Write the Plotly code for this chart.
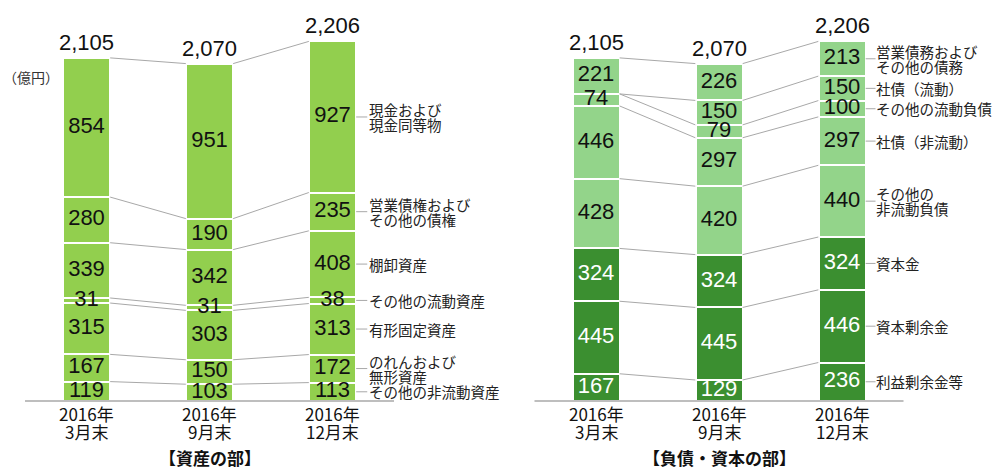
import plotly.graph_objects as go

# ---------------- data ----------------
period_year = ["2016年", "2016年", "2016年"]
period_month = ["3月末", "9月末", "12月末"]

# assets (bottom -> top)
asset_labels = ["その他の非流動資産", "のれんおよび\n無形資産", "有形固定資産", "その他の流動資産",
                "棚卸資産", "営業債権および\nその他の債権", "現金および\n現金同等物"]
a_other_noncurrent = [119, 103, 113]
a_goodwill = [167, 150, 172]
a_ppe = [315, 303, 313]
a_other_current = [31, 31, 38]
a_inventory = [339, 342, 408]
a_receivables = [280, 190, 235]
a_cash = [854, 951, 927]
asset_totals = [2105, 2070, 2206]

# liabilities & equity (bottom -> top)
liab_labels = ["利益剰余金等", "資本剰余金", "資本金", "その他の\n非流動負債", "社債（非流動）",
               "その他の流動負債", "社債（流動）", "営業債務および\nその他の債務"]
l_retained = [167, 129, 236]
l_cap_surplus = [445, 445, 446]
l_capital = [324, 324, 324]
l_other_noncurrent = [428, 420, 440]
l_bonds_noncurrent = [446, 297, 297]
l_other_current = [74, 79, 100]
l_bonds_current = [0, 150, 150]
l_payables = [221, 226, 213]
liab_totals = [2105, 2070, 2206]

unit_label = "（億円）"
section_titles = ["【資産の部】", "【負債・資本の部】"]

# ---------------- styles ----------------
W, H = 999, 470
PX_PER_UNIT = 0.163
BASE_PX = 401
SPACING_PX = 123
BAR_W = 0.385
C_ASSET = "#92CF4E"
C_LIAB = "#93D48A"
C_EQUITY = "#3B8F30"
C_LINE = "#A8A8A8"
NUM_FONT = "Liberation Sans, Arial, sans-serif"
JP_FONT = "Noto Sans CJK JP, sans-serif"

asset_series = [a_other_noncurrent, a_goodwill, a_ppe, a_other_current, a_inventory, a_receivables, a_cash]
asset_colors = [C_ASSET] * 7
asset_text = ["#111111"] * 7
liab_series = [l_retained, l_cap_surplus, l_capital, l_other_noncurrent, l_bonds_noncurrent,
               l_other_current, l_bonds_current, l_payables]
liab_colors = [C_EQUITY] * 3 + [C_LIAB] * 5
liab_text = ["#FFFFFF"] * 3 + ["#111111"] * 5

y_min = -(H - BASE_PX) / PX_PER_UNIT
y_max = BASE_PX / PX_PER_UNIT
span = (W / 2) / SPACING_PX

fig = go.Figure()
annotations = []
shapes = []

panels = [
    dict(xa="x", ya="y", series=asset_series, colors=asset_colors, tcol=asset_text,
         labels=asset_labels, totals=asset_totals, lbl_dx=35, lead_dx=0.09),
    dict(xa="x2", ya="y2", series=liab_series, colors=liab_colors, tcol=liab_text,
         labels=liab_labels, totals=liab_totals, lbl_dx=33, lead_dx=0.08),
]

xs = [0, 1, 2]
for pi, p in enumerate(panels):
    xa, ya = p["xa"], p["ya"]
    n = len(p["series"])
    for k in range(n):
        fig.add_trace(go.Bar(
            x=xs, y=p["series"][k], width=BAR_W, xaxis=xa, yaxis=ya,
            marker=dict(color=p["colors"][k], line=dict(color="white", width=2)),
            hoverinfo="skip", showlegend=False))
    cum = []
    for i in range(3):
        c, acc = [], 0
        for k in range(n):
            acc += p["series"][k][i]
            c.append(acc)
        cum.append(c)
    tx, ty, tt, tc = [], [], [], []
    for k in range(n):
        for i in range(3):
            v = p["series"][k][i]
            if v == 0:
                continue
            tx.append(i)
            ty.append(cum[i][k] - v / 2)
            tt.append(f"{v:,}")
            tc.append(p["tcol"][k])
    fig.add_trace(go.Scatter(x=tx, y=ty, text=tt, mode="text", xaxis=xa, yaxis=ya,
                             textfont=dict(family=NUM_FONT, size=22, color=tc),
                             hoverinfo="skip", showlegend=False))
    lx, ly = [], []
    for i in range(2):
        for k in range(n):
            lx += [i + BAR_W / 2, i + 1 - BAR_W / 2, None]
            ly += [cum[i][k], cum[i + 1][k], None]
    fig.add_trace(go.Scatter(x=lx, y=ly, mode="lines", xaxis=xa, yaxis=ya,
                             line=dict(color=C_LINE, width=1), hoverinfo="skip", showlegend=False))
    for i in range(3):
        annotations.append(dict(x=i, y=p["totals"][i], xref=xa, yref=ya, text=f"{p['totals'][i]:,}",
                                showarrow=False, yanchor="bottom", yshift=1,
                                font=dict(family=NUM_FONT, size=22, color="#111111")))
    for i in range(3):
        for txt, dy in ((period_year[i], -12), (period_month[i], -30)):
            annotations.append(dict(x=i, y=0, xref=xa, yref=ya, text=txt, showarrow=False,
                                    yanchor="middle", yshift=dy, borderpad=0,
                                    font=dict(family=JP_FONT, size=17, color="#111111")))
    annotations.append(dict(x=1, y=0, xref=xa, yref=ya, text=f"<b>{section_titles[pi]}</b>",
                            showarrow=False, yanchor="middle", yshift=-56, borderpad=0,
                            font=dict(family=JP_FONT, size=17, color="#111111")))
    shapes.append(dict(type="line", xref=xa, yref=ya, x0=-0.5, x1=2.5, y0=0, y1=0,
                       line=dict(color=C_LINE, width=1.3), layer="above"))
    for k in range(n):
        v = p["series"][k][2]
        mid = cum[2][k] - v / 2
        shapes.append(dict(type="line", xref=xa, yref=ya, x0=2 + BAR_W / 2, x1=2 + BAR_W / 2 + p["lead_dx"],
                           y0=mid, y1=mid, line=dict(color=C_LINE, width=1)))
        lines = p["labels"][k].split("\n")
        offs = [0] if len(lines) == 1 else [7.5, -7.5]
        for ln, off in zip(lines, offs):
            annotations.append(dict(x=2, y=mid, xref=xa, yref=ya, text=ln, showarrow=False,
                                    xanchor="left", yanchor="middle", xshift=p["lbl_dx"], yshift=off,
                                    borderpad=0,
                                    font=dict(family=JP_FONT, size=14.5, color="#222222")))

annotations.append(dict(x=31 / W, y=1 - 77 / H, xref="paper", yref="paper", text=unit_label,
                        xanchor="center", yanchor="middle",
                        showarrow=False, font=dict(family=JP_FONT, size=14, color="#333333")))

x_left_min = -86.5 / SPACING_PX
x_right_min = -(596 - W / 2) / SPACING_PX
axis_common = dict(showgrid=False, zeroline=False, showticklabels=False, showline=False, ticks="")
fig.update_layout(
    width=W, height=H, margin=dict(l=0, r=0, t=0, b=0, pad=0),
    paper_bgcolor="white", plot_bgcolor="rgba(0,0,0,0)",
    barmode="stack", bargap=0,
    xaxis=dict(domain=[0, 0.5], range=[x_left_min, x_left_min + span], anchor="y", **axis_common),
    xaxis2=dict(domain=[0.5, 1], range=[x_right_min, x_right_min + span], anchor="y2", **axis_common),
    yaxis=dict(domain=[0, 1], range=[y_min, y_max], anchor="x", **axis_common),
    yaxis2=dict(domain=[0, 1], range=[y_min, y_max], anchor="x2", **axis_common),
    annotations=annotations, shapes=shapes,
)

fig.write_html("out.html", config={"displayModeBar": False},
               post_script="document.body.style.margin='0';document.body.style.overflow='hidden';")
